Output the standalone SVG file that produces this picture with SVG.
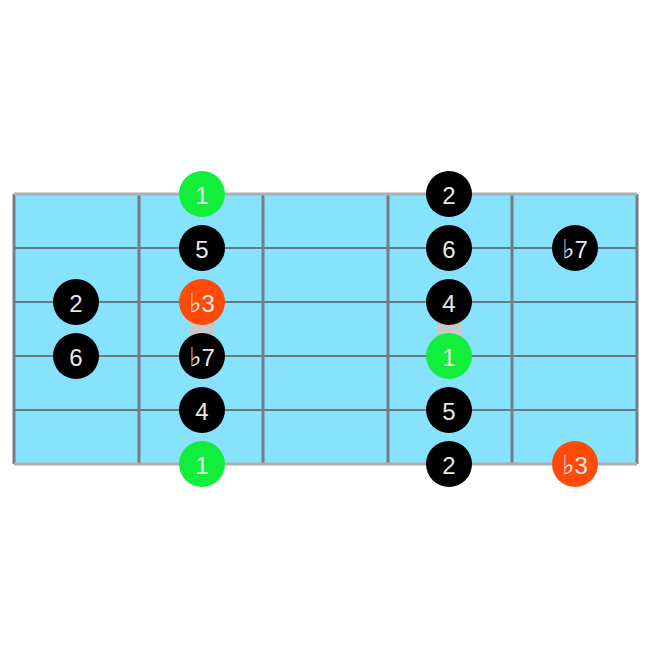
<svg xmlns="http://www.w3.org/2000/svg" width="650" height="650" viewBox="0 0 650 650">
<style>
.str{stroke:#667884;stroke-width:2}
.fret{stroke:#767d82;stroke-width:3}
.edge{stroke:#a9b0b4;stroke-width:3;fill:none}
.blk{fill:#000}
.grn{fill:#12ee3c}
.red{fill:#ff4a0a}
.lbl{font-family:"Liberation Sans","DejaVu Sans",sans-serif;font-size:24px;fill:#e8e8e8;text-anchor:middle;dominant-baseline:central}
.fl{font-family:"DejaVu Sans",sans-serif;font-size:26px}
</style>
<rect width="650" height="650" fill="#ffffff"/>
<g id="board">
<rect x="14" y="194" width="623" height="270" fill="#87e2fe"/>
<line class="str" x1="14" y1="248" x2="637" y2="248"/>
<line class="str" x1="14" y1="302" x2="637" y2="302"/>
<line class="str" x1="14" y1="356" x2="637" y2="356"/>
<line class="str" x1="14" y1="410" x2="637" y2="410"/>
<line class="fret" x1="139" y1="194" x2="139" y2="464"/>
<line class="fret" x1="263" y1="194" x2="263" y2="464"/>
<line class="fret" x1="388" y1="194" x2="388" y2="464"/>
<line class="fret" x1="512" y1="194" x2="512" y2="464"/>
<line class="fret" x1="14" y1="194" x2="14" y2="464"/>
<line class="fret" x1="637" y1="194" x2="637" y2="464"/>
<line class="edge" x1="14" y1="194" x2="637" y2="194"/>
<line class="edge" x1="14" y1="464" x2="637" y2="464"/>
<rect x="190" y="316" width="24" height="26" rx="3" fill="#c8c8c8"/>
<rect x="437" y="316" width="24" height="26" rx="3" fill="#c8c8c8"/>
</g>
<g id="n0a"><circle class="blk" cx="76" cy="302" r="23"/><text class="lbl" x="76" y="303">2</text></g>
<g id="n0b"><circle class="blk" cx="76" cy="356" r="23"/><text class="lbl" x="76" y="357">6</text></g>
<g id="n1a"><circle class="grn" cx="202" cy="194" r="23"/><text class="lbl" x="202" y="195">1</text></g>
<g id="n1b"><circle class="blk" cx="202" cy="248" r="23"/><text class="lbl" x="202" y="249">5</text></g>
<g id="n1c"><circle class="red" cx="202" cy="302" r="23"/><text class="lbl" x="202" y="303"><tspan class="fl">♭</tspan>3</text></g>
<g id="n1d"><circle class="blk" cx="202" cy="356" r="23"/><text class="lbl" x="202" y="357"><tspan class="fl">♭</tspan>7</text></g>
<g id="n1e"><circle class="blk" cx="202" cy="410" r="23"/><text class="lbl" x="202" y="411">4</text></g>
<g id="n1f"><circle class="grn" cx="202" cy="464" r="23"/><text class="lbl" x="202" y="465">1</text></g>
<g id="n3a"><circle class="blk" cx="449" cy="194" r="23"/><text class="lbl" x="449" y="195">2</text></g>
<g id="n3b"><circle class="blk" cx="449" cy="248" r="23"/><text class="lbl" x="449" y="249">6</text></g>
<g id="n3c"><circle class="blk" cx="449" cy="302" r="23"/><text class="lbl" x="449" y="303">4</text></g>
<g id="n3d"><circle class="grn" cx="449" cy="356" r="23"/><text class="lbl" x="449" y="357">1</text></g>
<g id="n3e"><circle class="blk" cx="449" cy="410" r="23"/><text class="lbl" x="449" y="411">5</text></g>
<g id="n3f"><circle class="blk" cx="449" cy="464" r="23"/><text class="lbl" x="449" y="465">2</text></g>
<g id="n4a"><circle class="blk" cx="575" cy="248" r="23"/><text class="lbl" x="575" y="249"><tspan class="fl">♭</tspan>7</text></g>
<g id="n4b"><circle class="red" cx="575" cy="464" r="23"/><text class="lbl" x="575" y="465"><tspan class="fl">♭</tspan>3</text></g>
<g id="connectors"></g>
</svg>
